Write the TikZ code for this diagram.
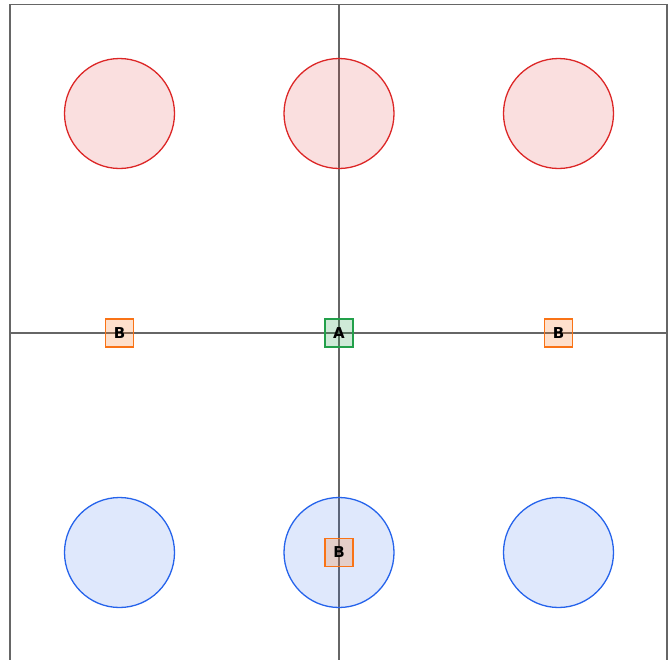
\documentclass[tikz,border=0pt]{standalone}
\usepackage{fontspec}
\setmainfont{DejaVu Sans}
\definecolor{axisgray}{HTML}{666666}
\definecolor{redc}{HTML}{DC2626}
\definecolor{bluec}{HTML}{2563EB}
\definecolor{greenc}{HTML}{22A04A}
\definecolor{orangec}{HTML}{F97316}
\tikzset{
  frame/.style={draw=axisgray, line width=1.5pt},
  axis/.style={draw=axisgray, line width=2pt},
  redball/.style={circle, draw=redc, line width=1.3pt, fill=redc, fill opacity=0.15, text opacity=1, minimum size=110pt, inner sep=0pt},
  blueball/.style={circle, draw=bluec, line width=1.3pt, fill=bluec, fill opacity=0.15, text opacity=1, minimum size=110pt, inner sep=0pt},
  abox/.style={rectangle, draw=greenc, line width=1.4pt, fill=greenc, fill opacity=0.22, text opacity=1, minimum size=28pt, inner sep=0pt, font=\fontsize{15}{16}\selectfont\bfseries},
  bbox/.style={rectangle, draw=orangec, line width=1.4pt, fill=orangec, fill opacity=0.22, text opacity=1, minimum size=28pt, inner sep=0pt, font=\fontsize{15}{16}\selectfont\bfseries},
}
\begin{document}
\begin{tikzpicture}[x=1pt, y=-1pt]
\useasboundingbox (0,0) rectangle (672,659);
\clip (0,0) rectangle (672,659);
\coordinate (tl) at (10,4.5);
\coordinate (br) at (667,661.5);
\draw[frame] (tl) rectangle (br);
\coordinate (top) at (339,4.5);
\coordinate (bot) at (339,661.5);
\coordinate (lft) at (10,333);
\coordinate (rgt) at (667,333);
\draw[axis] (top) -- (bot);
\draw[axis] (lft) -- (rgt);
\node[redball] (r1) at (119.5,113.5) {};
\node[redball] (r2) at (339,113.5) {};
\node[redball] (r3) at (558.5,113.5) {};
\node[blueball] (b1) at (119.5,552.5) {};
\node[blueball] (b2) at (339,552.5) {};
\node[blueball] (b3) at (558.5,552.5) {};
\node[abox] (A) at (339,333) {A};
\node[bbox] (B1) at (119.5,333) {B};
\node[bbox] (B2) at (558.5,333) {B};
\node[bbox] (B3) at (339,552.5) {B};
\end{tikzpicture}
\end{document}
